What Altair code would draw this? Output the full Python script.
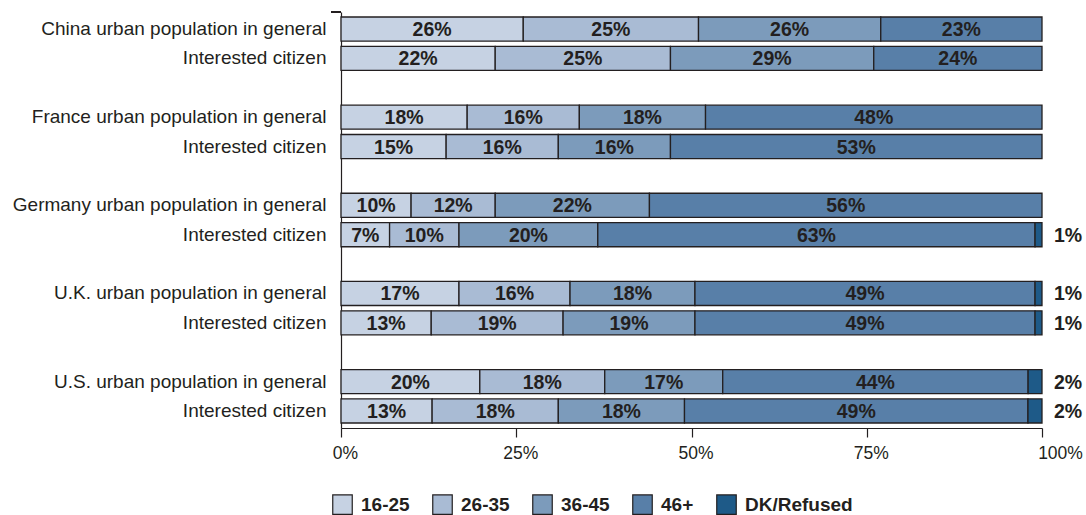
import altair as alt
import pandas as pd

# Age profile of urban population vs. interested citizens, by country
countries = ["China", "France", "Germany", "U.K.", "U.S."]
age_groups = ["16-25", "26-35", "36-45", "46+", "DK/Refused"]
group_colors = ["#c6d2e3", "#a9bbd4", "#7c9bbb", "#587fa8", "#1e5a88"]

# shares (%) per age group: 16-25, 26-35, 36-45, 46+, DK/Refused
general_pop = [
    [26, 25, 26, 23, 0],
    [18, 16, 18, 48, 0],
    [10, 12, 22, 56, 0],
    [17, 16, 18, 49, 1],
    [20, 18, 17, 44, 2],
]
interested = [
    [22, 25, 29, 24, 0],
    [15, 16, 16, 53, 0],
    [7, 10, 20, 63, 1],
    [13, 19, 19, 49, 1],
    [13, 18, 18, 49, 2],
]

records = []
row_order = []
for i, country in enumerate(countries):
    for kind, table in (("general", general_pop), ("citizen", interested)):
        key = f"{country}|{kind}"
        row_order.append(key)
        for j, grp in enumerate(age_groups):
            v = table[i][j]
            if v > 0:
                records.append({"row": key, "group": grp, "order": j, "value": v})
    if i < len(countries) - 1:
        row_order.append(f"gap|{i}")

df = pd.DataFrame(records)

INK = "#231f20"
FONT = "Liberation Sans"

label_expr = (
    "split(datum.value,'|')[1] == 'general' ? "
    "split(datum.value,'|')[0] + ' urban population in general' : "
    "(split(datum.value,'|')[1] == 'citizen' ? 'Interested citizen' : '')"
)

y_enc = alt.Y(
    "row:N",
    sort=row_order,
    scale=alt.Scale(domain=row_order, paddingInner=0.18, paddingOuter=0.17),
    axis=alt.Axis(
        title=None,
        ticks=False,
        labelExpr=label_expr,
        labelFont=FONT,
        labelFontSize=19,
        labelColor=INK,
        labelPadding=15,
        labelLimit=0,
        domainColor=INK,
        domainWidth=1.2,
    ),
)

x_scale = alt.Scale(domain=[0, 1], nice=False)

base = alt.Chart(df).transform_stack(
    stack="value",
    groupby=["row"],
    as_=["x0", "x1"],
    offset="normalize",
    sort=[alt.SortField("order", order="ascending")],
).transform_calculate(
    mid="(datum.x0 + datum.x1) / 2",
    label="datum.value + '%'",
)

bars = base.mark_bar(stroke=INK, strokeWidth=1.3).encode(
    x=alt.X(
        "x0:Q",
        scale=x_scale,
        axis=alt.Axis(
            title=None,
            values=[0, 0.25, 0.5, 0.75, 1],
            format=".0%",
            grid=False,
            tickSize=9,
            tickColor=INK,
            tickWidth=1.2,
            domainColor=INK,
            domainWidth=1.2,
            labelFont=FONT,
            labelFontSize=17.5,
            labelColor=INK,
            labelPadding=7,
            labelFlush=False,
            labelOffset={"condition": {"test": "datum.value == 1", "value": 18}, "value": 4},
        ),
    ),
    x2="x1:Q",
    y=y_enc,
    color=alt.Color(
        "group:N",
        scale=alt.Scale(domain=age_groups, range=group_colors),
        legend=alt.Legend(
            title=None,
            orient="none",
            direction="horizontal",
            legendX=-9,
            legendY=482,
            symbolType="square",
            symbolSize=380,
            symbolStrokeColor=INK,
            symbolStrokeWidth=1.2,
            symbolOpacity=1,
            labelFont=FONT,
            labelFontSize=19,
            labelFontWeight="bold",
            labelColor=INK,
            labelOffset=8,
            columnPadding=20,
            padding=0,
        ),
    ),
)

inner_text = base.transform_filter(
    alt.datum.group != "DK/Refused"
).mark_text(
    font=FONT, fontSize=19.5, fontWeight="bold", color=INK, baseline="middle", dy=1
).encode(
    x=alt.X("mid:Q", scale=x_scale),
    y=alt.Y("row:N", sort=row_order),
    text="label:N",
)

dk_text = base.transform_filter(
    alt.datum.group == "DK/Refused"
).mark_text(
    font=FONT, fontSize=19.5, fontWeight="bold", color=INK, baseline="middle",
    align="left", dx=12, dy=1,
).encode(
    x=alt.datum(1),
    y=alt.Y("row:N", sort=row_order),
    text="label:N",
)

# small cap tick at the top end of the category axis
cap = alt.Chart(df).mark_rule(color=INK, strokeWidth=1.2).encode(
    x=alt.value(-10), x2=alt.value(0), y=alt.value(0)
)

chart = (
    alt.layer(bars, inner_text, dk_text, cap)
    .properties(
        width=701,
        height=416,
        autosize=alt.AutoSizeParams(type="none"),
        padding={"left": 341, "top": 12, "right": 44, "bottom": 87},
        background="white",
    )
    .configure_view(stroke=None)
)

chart.save("out.html", embed_options={"renderer": "svg", "actions": False})
